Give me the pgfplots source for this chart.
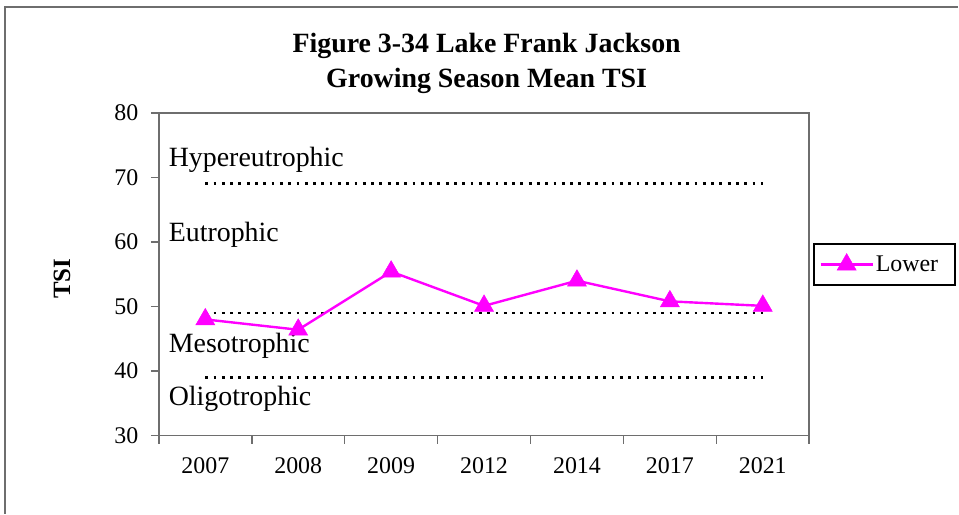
\documentclass[border=0pt]{standalone}
\usepackage{pgfplots}
\pgfplotsset{compat=1.18}
\usepackage{fontspec}
\setmainfont{Liberation Serif}

\definecolor{tsimag}{RGB}{255,0,255}
\definecolor{axgray}{RGB}{110,110,110}

\begin{document}
\begin{tikzpicture}
\begin{axis}[
    at={(0,0)}, anchor=south west,
    scale only axis,
    width=651bp, height=323bp,
    xmin=0, xmax=7,
    ymin=30, ymax=80,
    xtick={0,1,...,7},
    xticklabels={2007,2008,2009,2012,2014,2017,2021},
    x tick label as interval,
    ytick={30,40,...,80},
    xtick pos=bottom, ytick pos=left,
    tick align=outside,
    major tick length=8bp,
    tick style={axgray, line width=1.5bp},
    axis line style={axgray, line width=1.8bp},
    /pgf/number format/assume math mode=true,
    ticklabel style={font=\fontsize{24}{27}\selectfont},
    xticklabel style={yshift=-11bp},
    yticklabel style={xshift=-9bp},
    title={Figure 3-34 Lake Frank Jackson\\Growing Season Mean TSI},
    title style={at={(axis description cs:0.504,1.135)}, anchor=center,
        align=center, font=\bfseries\fontsize{28}{35}\selectfont},
    ylabel={TSI},
    ylabel style={at={(axis description cs:-0.149,0.486)}, anchor=center,
        font=\bfseries\fontsize{25}{28}\selectfont},
    legend style={at={(axis description cs:1.005,0.598)}, anchor=north west,
        draw=black, line width=2bp, inner xsep=6bp, inner ysep=10bp,
        font=\fontsize{24}{28}\selectfont},
    legend image code/.code={
        \draw[#1] (0bp,0bp) -- (52bp,0bp);
        \draw[#1, only marks] plot coordinates {(26bp,0bp)};
    },
    clip=false,
]
% trophic class boundaries
\addplot[black, line width=2.8bp, dash pattern=on 2.8bp off 5.5bp, forget plot]
    coordinates {(0.5,69)(6.5,69)};
\addplot[black, line width=2.8bp, dash pattern=on 2.8bp off 5.5bp, forget plot]
    coordinates {(0.5,49)(6.5,49)};
\addplot[black, line width=2.8bp, dash pattern=on 2.8bp off 5.5bp, forget plot]
    coordinates {(0.5,39)(6.5,39)};

\addplot[tsimag, line width=2.4bp, mark=triangle*, mark size=11bp,
    mark options={solid, fill=tsimag, line width=0.5bp}]
    coordinates {(0.5,48.0)(1.5,46.4)(2.5,55.4)(3.5,50.1)(4.5,54.0)(5.5,50.8)(6.5,50.1)};
\addlegendentry{Lower\hspace*{9bp}}

\node[anchor=west, font=\fontsize{28}{31}\selectfont] at (axis cs:0.07,72.7) {Hypereutrophic};
\node[anchor=west, font=\fontsize{28}{31}\selectfont] at (axis cs:0.07,61.1) {Eutrophic};
\node[anchor=west, font=\fontsize{28}{31}\selectfont] at (axis cs:0.07,43.9) {Mesotrophic};
\node[anchor=west, font=\fontsize{28}{31}\selectfont] at (axis cs:0.07,35.7) {Oligotrophic};
\end{axis}
% chart area frame
\draw[axgray, line width=1.8bp] (-154bp,-78bp) -- (-154bp,429bp) -- (800bp,429bp);
\path[use as bounding box] (-159bp,-78bp) rectangle (800bp,436bp);
\end{tikzpicture}
\end{document}
